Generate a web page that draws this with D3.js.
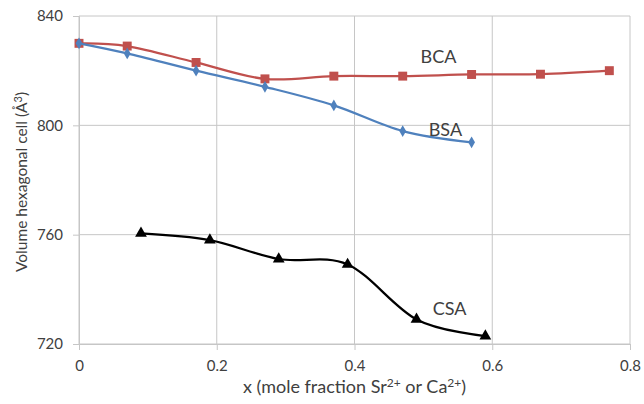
<!DOCTYPE html>
<html>
<head>
<meta charset="utf-8">
<script src="https://cdn.jsdelivr.net/npm/d3@7"></script>
<style>
  body { margin: 0; background: #fff; }
  svg text { font-family: Lato, "Open Sans", sans-serif; fill: #404040; }
</style>
</head>
<body>
<div class="vis-chart"></div>
<script>
// mole fraction values
var bcaX = [0, 0.07, 0.17, 0.27, 0.37, 0.47, 0.57, 0.67, 0.77];
var bcaY = [830, 829, 823, 817, 818, 818, 818.6, 818.7, 820];

var bsaX = [0, 0.07, 0.17, 0.27, 0.37, 0.47, 0.57];
var bsaY = [830, 826.3, 820, 814.1, 807.3, 797.9, 793.8];

var csaX = [0.09, 0.19, 0.29, 0.39, 0.49, 0.59];
var csaY = [760.5, 758, 751.1, 749.1, 729, 722.9];

var xTicks = [0, 0.2, 0.4, 0.6, 0.8];
var yTicks = [720, 760, 800, 840];

var seriesNames = ["BCA", "BSA", "CSA"];
var labelX = [0.522, 0.532, 0.538];
var labelY = [822.7, 796, 730.5];

var width = 644, height = 404;
var margin = { top: 16, right: 14, bottom: 60, left: 79 };
var w = width - margin.left - margin.right;
var h = height - margin.top - margin.bottom;

var svg = d3.select('.vis-chart').append("svg")
    .attr("width", width)
    .attr("height", height);

var g = svg.append("g")
    .attr("transform", "translate(" + margin.left + "," + margin.top + ")");

var x = d3.scaleLinear().domain([0, 0.8]).range([0, w]);
var y = d3.scaleLinear().domain([720, 840]).range([h, 0]);

// gridlines
g.selectAll(".hgrid").data(yTicks).enter().append("line")
    .attr("x1", 0).attr("x2", w)
    .attr("y1", function (d) { return y(d); })
    .attr("y2", function (d) { return y(d); })
    .attr("stroke", "#c6c6c6").attr("stroke-width", 1);
g.selectAll(".vgrid").data(xTicks).enter().append("line")
    .attr("y1", 0).attr("y2", h)
    .attr("x1", function (d) { return x(d); })
    .attr("x2", function (d) { return x(d); })
    .attr("stroke", "#c6c6c6").attr("stroke-width", 1);

// axes
var xAxis = g.append("g")
    .attr("transform", "translate(0," + h + ")")
    .call(d3.axisBottom(x).tickValues(xTicks).tickSize(6).tickPadding(10)
        .tickFormat(function (d) { return d === 0 ? "0" : d3.format(".1f")(d); }));
var yAxis = g.append("g")
    .call(d3.axisLeft(y).tickValues(yTicks).tickSize(6).tickPadding(10));

[xAxis, yAxis].forEach(function (a) {
    a.select(".domain").attr("stroke", "#c6c6c6");
    a.selectAll(".tick line").attr("stroke", "#c6c6c6");
    a.selectAll("text").attr("font-size", 15).attr("fill", "#404040")
        .style("font-family", "Lato, 'Open Sans', sans-serif");
});

// axis titles
svg.append("text")
    .attr("x", margin.left + w / 2)
    .attr("y", 393)
    .attr("text-anchor", "middle")
    .attr("font-size", 18)
    .html('x (mole fraction Sr<tspan dy="-6" font-size="12">2+</tspan><tspan dy="6"> or Ca</tspan><tspan dy="-6" font-size="12">2+</tspan><tspan dy="6">)</tspan>');

svg.append("text")
    .attr("transform", "translate(27,182) rotate(-90)")
    .attr("text-anchor", "middle")
    .attr("font-size", 15.5)
    .html('Volume hexagonal cell (Å<tspan dy="-5" font-size="11">3</tspan><tspan dy="5">)</tspan>');

// series
var series = [
    { xs: bcaX, ys: bcaY, color: "#c0504d", marker: d3.symbolSquare, size: 80 },
    { xs: bsaX, ys: bsaY, color: "#4f81bd", marker: d3.symbolDiamond, size: 40 },
    { xs: csaX, ys: csaY, color: "#000000", marker: d3.symbolTriangle, size: 60 }
];

var line = d3.line()
    .x(function (d) { return x(d[0]); })
    .y(function (d) { return y(d[1]); })
    .curve(d3.curveCatmullRom.alpha(0));

series.forEach(function (s) {
    var pts = s.xs.map(function (v, i) { return [v, s.ys[i]]; });
    g.append("path")
        .datum(pts)
        .attr("fill", "none")
        .attr("stroke", s.color)
        .attr("stroke-width", 2.25)
        .attr("d", line);
    g.selectAll(null).data(pts).enter().append("path")
        .attr("transform", function (d) { return "translate(" + x(d[0]) + "," + y(d[1]) + ")"; })
        .attr("d", d3.symbol().type(s.marker).size(s.size))
        .attr("fill", s.color);
});

// series labels
g.selectAll(".lbl").data(seriesNames).enter().append("text")
    .attr("x", function (d, i) { return x(labelX[i]); })
    .attr("y", function (d, i) { return y(labelY[i]); })
    .attr("text-anchor", "middle")
    .attr("font-size", 18)
    .attr("fill", "#000")
    .text(function (d) { return d; });
</script>
</body>
</html>
